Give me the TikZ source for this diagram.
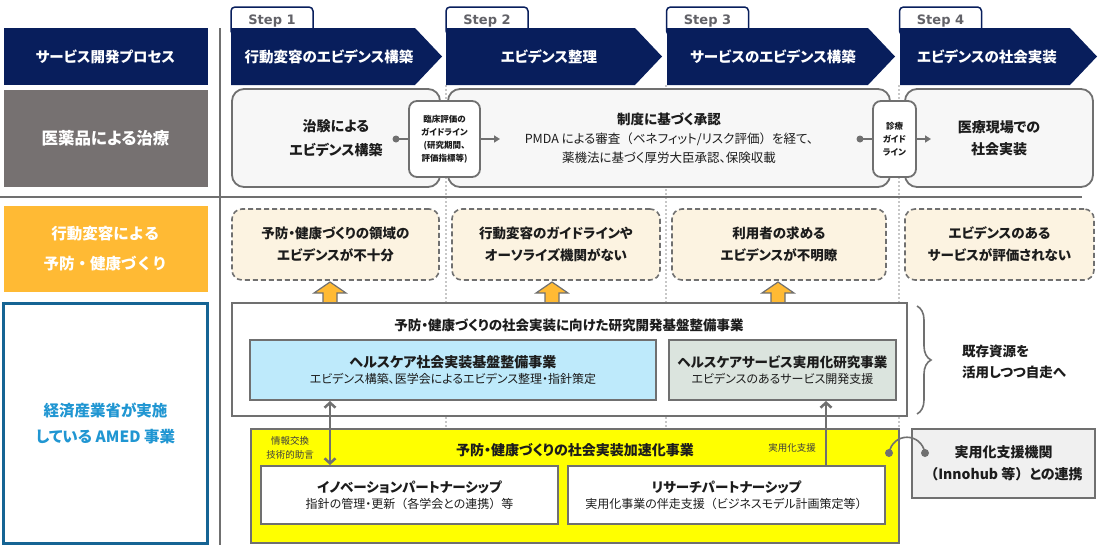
\documentclass[tikz,border=0pt]{standalone}
\usepackage{fontspec}
\setmainfont{Noto Sans CJK JP}[RawFeature=+palt]
\newfontfamily\widejp{Noto Sans CJK JP}
\newfontfamily\stepfont{DejaVu Sans}
\usetikzlibrary{arrows.meta,decorations.pathreplacing}

\definecolor{navyblue}{RGB}{8,30,92}
\definecolor{druggray}{RGB}{118,113,113}
\definecolor{behavorange}{RGB}{255,186,52}
\definecolor{amedline}{RGB}{22,100,148}
\definecolor{amedtext}{RGB}{32,150,210}
\definecolor{boxgray}{RGB}{112,112,112}
\definecolor{palegray}{RGB}{247,247,247}
\definecolor{cream}{RGB}{252,243,225}
\definecolor{lightblue}{RGB}{190,234,251}
\definecolor{graygreen}{RGB}{219,228,222}
\definecolor{accyellow}{RGB}{255,255,0}
\definecolor{hubgray}{RGB}{240,240,240}
\definecolor{tabgray}{RGB}{98,98,104}
\definecolor{inkblack}{RGB}{28,28,28}

\tikzset{
  leftbox/.style={minimum width=204pt, inner sep=0pt, text=white, align=center,
    font=\bfseries\fontsize{15.5}{30}\selectfont},
  steptab/.style={draw=navyblue, line width=1.5pt, fill=white, rounded corners=4pt,
    minimum width=82pt, minimum height=28pt, inner sep=0pt, text=tabgray,
    font=\stepfont\bfseries\fontsize{13}{15}\selectfont},
  steptext/.style={text=white, inner sep=0pt, font=\bfseries\fontsize{14.5}{17}\selectfont},
  medbox/.style={draw=boxgray, line width=1.8pt, fill=palegray, rounded corners=12pt,
    minimum height=98pt, align=center, text=inkblack},
  guidebox/.style={draw=boxgray, line width=1.8pt, fill=white, rounded corners=8pt,
    minimum height=76pt, inner sep=1pt, align=center, text=inkblack,
    font=\bfseries\fontsize{8.5}{13}\selectfont},
  issuebox/.style={draw=boxgray, line width=1.6pt, dash pattern=on 5pt off 3pt,
    fill=cream, rounded corners=10pt, minimum height=71pt, align=center, text=inkblack,
    font=\bfseries\fontsize{13.5}{22}\selectfont},
  projbox/.style={draw=boxgray, line width=2pt, minimum height=58pt, align=center,
    text=inkblack, inner sep=0pt},
  colsep/.style={draw=black!22, line width=1.5pt, dash pattern=on 1.5pt off 2.5pt},
  rule/.style={draw=boxgray, line width=1.5pt},
  conn/.style={draw=boxgray, line width=1.6pt},
  uparr/.style={fill=behavorange, draw=boxgray, line width=1.2pt, line join=miter},
  dblarr/.style={draw=boxgray, line width=2.5pt,
    {Straight Barb[length=5pt,width=11pt]}-{Straight Barb[length=5pt,width=11pt]}},
  onearr/.style={draw=boxgray, line width=2.5pt, -{Straight Barb[length=5pt,width=11pt]}},
  smalltext/.style={inner sep=0pt, align=center, text=inkblack!85,
    font=\fontsize{9.5}{14}\selectfont},
  brace/.style={draw=boxgray, line width=1.6pt,
    decorate, decoration={brace, amplitude=14pt}}
}

\begin{document}
\begin{tikzpicture}[x=1pt,y=-1pt]
  \useasboundingbox (0,0) rectangle (1104,555);

  % 列の区切り(点線)と罫線
  \coordinate (sep1) at (446,85);
  \coordinate (sep2) at (666,85);
  \coordinate (sep3) at (899,85);
  \draw[colsep] (sep1) -- ++(0,395);
  \draw[colsep] (sep2) -- ++(0,395);
  \draw[colsep] (sep3) -- ++(0,395);
  \draw[rule] (0,197) -- (1082,197);
  \draw[rule] (220,28) -- (220,545);

  % 左の見出し
  \node[leftbox, fill=navyblue, minimum height=57pt,
    font=\bfseries\fontsize{14.5}{17}\selectfont] (proc) at (105.5,56.5) {サービス開発プロセス};
  \node[leftbox, fill=druggray, minimum height=97pt,
    font=\bfseries\fontsize{16.5}{20}\selectfont] (drug) at (105.5,138.5) {医薬品による治療};
  \node[leftbox, fill=behavorange, minimum height=86pt,
    font=\widejp\bfseries\fontsize{15.5}{30}\selectfont] (behav) at (105.5,249) {行動変容による\\予防・健康づくり};
  \node[leftbox, draw=amedline, line width=3pt, fill=white, text=amedtext, minimum height=240pt,
    font=\bfseries\fontsize{15.5}{26}\selectfont] (amed) at (105.5,423) {経済産業省が実施\\している AMED 事業};

  % Step のタブ
  \node[steptab] (tab1) at (272,21) {Step 1};
  \node[steptab] (tab2) at (487,21) {Step 2};
  \node[steptab] (tab3) at (707.5,21) {Step 3};
  \node[steptab] (tab4) at (940.5,21) {Step 4};

  % Step の矢羽根
  \fill[navyblue] (231,28) -- (415,28) -- (442,56.5) -- (415,85) -- (231,85) -- cycle;
  \fill[navyblue] (446,28) -- (635,28) -- (662,56.5) -- (635,85) -- (446,85) -- cycle;
  \fill[navyblue] (667,28) -- (868,28) -- (895,56.5) -- (868,85) -- (667,85) -- cycle;
  \fill[navyblue] (900,28) -- (1070,28) -- (1097,56.5) -- (1070,85) -- (900,85) -- cycle;
  \node[steptext] (st1) at (329,57) {行動変容のエビデンス構築};
  \node[steptext] (st2) at (549,57) {エビデンス整理};
  \node[steptext] (st3) at (773,57) {サービスのエビデンス構築};
  \node[steptext] (st4) at (987,57) {エビデンスの社会実装};

  % 医薬品の流れ
  \node[medbox, minimum width=208pt, font=\bfseries\fontsize{14}{24}\selectfont] (trial) at (336,138) {治験による\\エビデンス構築};
  \node[medbox, minimum width=442pt, font=\fontsize{12.5}{19}\selectfont] (appr) at (669,138)
    {{\bfseries\fontsize{13.5}{19}\selectfont 制度に基づく承認}\\PMDA による審査{\widejp （}ベネフィット/リスク評価{\widejp ）}を経て、\\薬機法に基づく厚労大臣承認、保険収載};
  \node[medbox, minimum width=188pt, font=\bfseries\fontsize{14}{22}\selectfont] (field) at (999,138) {医療現場での\\社会実装};
  \node[guidebox, minimum width=71pt] (gl1) at (444.5,139) {臨床評価の\\ガイドライン\\(研究期間、\\評価指標等)};
  \node[guidebox, minimum width=43pt] (gl2) at (894.5,139) {診療\\ガイド\\ライン};

  \coordinate (d1) at (396,139);
  \coordinate (e1) at (500,139);
  \coordinate (d2) at (860,139);
  \coordinate (e2) at (931,139);
  \fill[boxgray] (d1) circle (3.5pt);
  \fill[boxgray] (d2) circle (3.5pt);
  \draw[conn] (d1) -- (gl1.west);
  \draw[conn] (d2) -- (gl2.west);
  \draw[conn, -{Triangle[length=6pt,width=7pt]}] (gl1.east) -- (e1);
  \draw[conn, -{Triangle[length=6pt,width=7pt]}] (gl2.east) -- (e2);

  % 行動変容の課題
  \node[issuebox, minimum width=207pt] (iss1) at (335.5,244.5) {予防・健康づくりの領域の\\エビデンスが不十分};
  \node[issuebox, minimum width=208pt] (iss2) at (556,244.5) {行動変容のガイドラインや\\オーソライズ機関がない};
  \node[issuebox, minimum width=214pt] (iss3) at (779,244.5) {利用者の求める\\エビデンスが不明瞭};
  \node[issuebox, minimum width=189pt] (iss4) at (999.5,244.5) {エビデンスのある\\サービスが評価されない};

  % 上向きの矢印
  \draw[uparr] (330,282) -- ++(16,11) -- ++(-9,0) -- ++(0,10) -- ++(-14,0) -- ++(0,-10) -- ++(-9,0) -- cycle;
  \draw[uparr] (552,282) -- ++(16,11) -- ++(-9,0) -- ++(0,10) -- ++(-14,0) -- ++(0,-10) -- ++(-9,0) -- cycle;
  \draw[uparr] (778,282) -- ++(16,11) -- ++(-9,0) -- ++(0,10) -- ++(-14,0) -- ++(0,-10) -- ++(-9,0) -- cycle;

  % 研究開発基盤整備事業
  \node[projbox, fill=white, minimum width=675pt, minimum height=113pt] (base) at (569.5,359.5) {};
  \node[inner sep=0pt, text=inkblack, font=\bfseries\fontsize{13.5}{16}\selectfont] (basettl) at (569,325)
    {予防・健康づくりの社会実装に向けた研究開発基盤整備事業};
  \node[projbox, fill=lightblue, minimum width=406pt, minimum height=60pt] (infra) at (453,370)
    {{\bfseries\fontsize{14}{16}\selectfont ヘルスケア社会実装基盤整備事業}\\[4pt]{\fontsize{12}{14}\selectfont エビデンス構築、医学会によるエビデンス整理・指針策定}};
  \node[projbox, fill=graygreen, minimum width=227pt, minimum height=60pt] (service) at (782.5,370)
    {{\bfseries\fontsize{13.5}{16}\selectfont ヘルスケアサービス実用化研究事業}\\[4pt]{\fontsize{12}{14}\selectfont エビデンスのあるサービス開発支援}};

  \draw[brace] (917,306) -- (917,414);
  \node[anchor=west, align=left, inner sep=0pt, text=inkblack,
    font=\bfseries\fontsize{13.5}{21}\selectfont] (selfrun) at (962,362) {既存資源を\\活用しつつ自走へ};

  % 社会実装加速化事業
  \node[projbox, fill=accyellow, minimum width=648pt, minimum height=114pt] (accel) at (575,486) {};
  \node[inner sep=0pt, text=inkblack, font=\bfseries\fontsize{14}{16}\selectfont] (accttl) at (575,450)
    {予防・健康づくりの社会実装加速化事業};
  \node[smalltext] (infoex) at (290,448) {情報交換\\技術的助言};
  \node[smalltext] (practsup) at (792,448) {実用化支援};
  \node[projbox, fill=white, minimum width=297pt, minimum height=58pt] (innov) at (409.5,495)
    {{\bfseries\fontsize{13.5}{16}\selectfont イノベーションパートナーシップ}\\[4pt]{\fontsize{12}{14}\selectfont 指針の管理・更新{\widejp （}各学会との連携{\widejp ）}等}};
  \node[projbox, fill=white, minimum width=317pt, minimum height=58pt] (resch) at (726.5,495)
    {{\bfseries\fontsize{13.5}{16}\selectfont リサーチパートナーシップ}\\[4pt]{\fontsize{12}{14}\selectfont 実用化事業の伴走支援{\widejp （}ビジネスモデル計画策定等{\widejp ）}}};

  \coordinate (xa) at (330,0);
  \coordinate (xb) at (826,0);
  \draw[dblarr] (infra.south -| xa) -- (innov.north -| xa);
  \draw[onearr] (resch.north -| xb) -- (service.south -| xb);

  % 実用化支援機関との連携
  \node[projbox, fill=hubgray, minimum width=183pt, minimum height=69pt,
    font=\bfseries\fontsize{14}{22}\selectfont] (hub) at (1003.5,463.5) {実用化支援機関\\{\widejp （}Innohub 等{\widejp ）}との連携};
  \coordinate (c1) at (889,453);
  \coordinate (c2) at (925,453);
  \draw[conn] (c1) .. controls (893,432) and (921,432) .. (c2);
  \fill[boxgray] (c1) circle (4pt);
  \fill[boxgray] (c2) circle (4pt);
\end{tikzpicture}
\end{document}
